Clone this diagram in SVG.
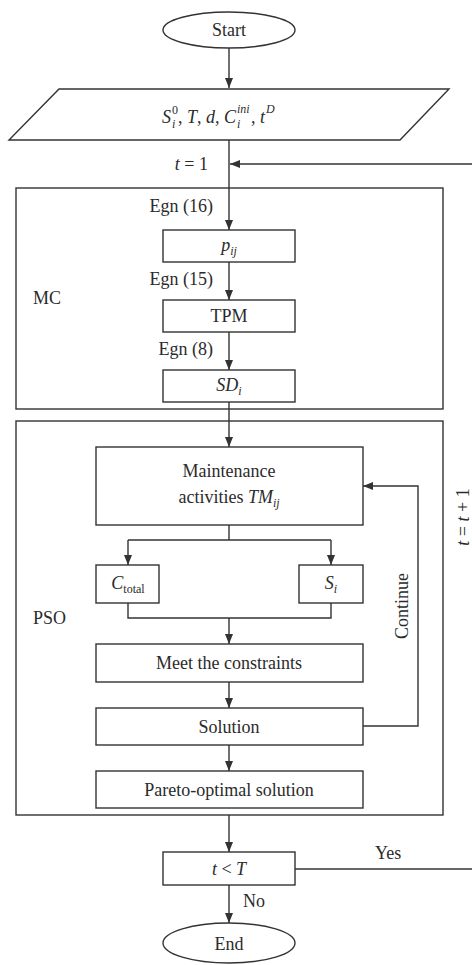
<svg xmlns="http://www.w3.org/2000/svg" width="472" height="965" viewBox="0 0 472 965">
<style>
.s{fill:none;stroke:#333;stroke-width:1.4}
.b{fill:#fff;stroke:#333;stroke-width:1.4}
text{font-family:"Liberation Serif","Times New Roman",serif;font-size:18px;fill:#2b2b2b}
.m{text-anchor:middle}
.e{text-anchor:end}
.i{font-style:italic}
.sm{font-size:12px}
</style>
<defs>
<marker id="ar" markerWidth="10" markerHeight="8" refX="10" refY="4" orient="auto" markerUnits="userSpaceOnUse">
<path d="M0,0 L10,4 L0,8 Z" fill="#333"/>
</marker>
</defs>
<rect width="472" height="965" fill="#fff"/>
<g id="mc-frame"><rect class="s" x="16" y="188" width="427" height="221"/><text x="33" y="304">MC</text></g>
<g id="pso-frame"><rect class="s" x="16" y="421" width="427" height="394"/><text x="33" y="624">PSO</text></g>
<g id="connectors">
<line class="s" x1="229" y1="48" x2="229" y2="88" marker-end="url(#ar)"/>
<line class="s" x1="229" y1="140" x2="229" y2="230" marker-end="url(#ar)"/>
<line class="s" x1="472" y1="164" x2="230" y2="164" marker-end="url(#ar)"/>
<line class="s" x1="229" y1="262" x2="229" y2="300" marker-end="url(#ar)"/>
<line class="s" x1="229" y1="332" x2="229" y2="370" marker-end="url(#ar)"/>
<line class="s" x1="229" y1="402" x2="229" y2="447" marker-end="url(#ar)"/>
<polyline class="s" points="229,525 229,540"/>
<polyline class="s" points="128,540 331,540"/>
<line class="s" x1="128" y1="540" x2="128" y2="565" marker-end="url(#ar)"/>
<line class="s" x1="331" y1="540" x2="331" y2="565" marker-end="url(#ar)"/>
<polyline class="s" points="128,603 128,618 331,618 331,603"/>
<line class="s" x1="229" y1="618" x2="229" y2="644" marker-end="url(#ar)"/>
<line class="s" x1="229" y1="682" x2="229" y2="708" marker-end="url(#ar)"/>
<line class="s" x1="229" y1="745" x2="229" y2="771" marker-end="url(#ar)"/>
<polyline class="s" points="363,726 418,726 418,486 363,486" marker-end="url(#ar)"/>
<line class="s" x1="229" y1="815" x2="229" y2="852" marker-end="url(#ar)"/>
<line class="s" x1="295" y1="869" x2="472" y2="869"/>
<line class="s" x1="229" y1="885" x2="229" y2="923" marker-end="url(#ar)"/>
<text x="213" y="212" class="e">Egn (16)</text>
<text x="213" y="285" class="e">Egn (15)</text>
<text x="213" y="355" class="e">Egn (8)</text>
<text x="208" y="170" class="e"><tspan class="i">t</tspan> = 1</text>
<text class="m" transform="translate(408,606) rotate(-90)">Continue</text>
<text class="m" transform="translate(469,517) rotate(-90)"><tspan class="i">t</tspan> = <tspan class="i">t</tspan> + 1</text>
<text x="375" y="859">Yes</text>
<text x="243" y="907">No</text>
</g>
<g id="start"><ellipse class="b" cx="229" cy="30" rx="66" ry="18"/><text class="m" x="229" y="36">Start</text></g>
<g id="input">
<polygon class="b" points="59,89 449,89 400,140 9,140"/>
<text x="162" y="123" class="i">S</text>
<text x="172" y="114" class="sm">0</text>
<text x="172" y="128" class="sm i">i</text>
<text x="178" y="123">, <tspan class="i">T</tspan>, <tspan class="i">d</tspan>, <tspan class="i">C</tspan></text>
<text x="237" y="113" class="sm i">ini</text>
<text x="237" y="128" class="sm i">i</text>
<text x="251" y="123">, <tspan class="i">t</tspan></text>
<text x="266" y="113" class="sm i">D</text>
</g>
<g id="pij"><rect class="b" x="163" y="230" width="132" height="32"/><text class="m" x="229" y="251"><tspan class="i">p</tspan><tspan class="i sm" dy="4">ij</tspan></text></g>
<g id="tpm"><rect class="b" x="163" y="300" width="132" height="32"/><text class="m" x="229" y="322">TPM</text></g>
<g id="sdi"><rect class="b" x="163" y="370" width="132" height="32"/><text class="m" x="229" y="391"><tspan class="i">SD</tspan><tspan class="i sm" dy="4">i</tspan></text></g>
<g id="maint"><rect class="b" x="96" y="447" width="267" height="78"/><text class="m" x="229" y="477">Maintenance</text><text class="m" x="229" y="503">activities <tspan class="i">TM</tspan><tspan class="i sm" dy="4">ij</tspan></text></g>
<g id="ctotal"><rect class="b" x="96" y="565" width="63" height="38"/><text class="m" x="128" y="589"><tspan class="i">C</tspan><tspan class="sm" dy="4">total</tspan></text></g>
<g id="si"><rect class="b" x="299" y="565" width="64" height="38"/><text class="m" x="331" y="589"><tspan class="i">S</tspan><tspan class="i sm" dy="4">i</tspan></text></g>
<g id="meet"><rect class="b" x="96" y="644" width="267" height="38"/><text class="m" x="229" y="669">Meet the constraints</text></g>
<g id="solution"><rect class="b" x="96" y="708" width="267" height="37"/><text class="m" x="229" y="733">Solution</text></g>
<g id="pareto"><rect class="b" x="96" y="771" width="267" height="37"/><text class="m" x="229" y="796">Pareto-optimal solution</text></g>
<g id="cond"><rect class="b" x="163" y="852" width="132" height="33"/><text class="m" x="229" y="875"><tspan class="i">t</tspan> &lt; <tspan class="i">T</tspan></text></g>
<g id="end"><ellipse class="b" cx="229" cy="943" rx="66" ry="20"/><text class="m" x="229" y="950">End</text></g>
</svg>
